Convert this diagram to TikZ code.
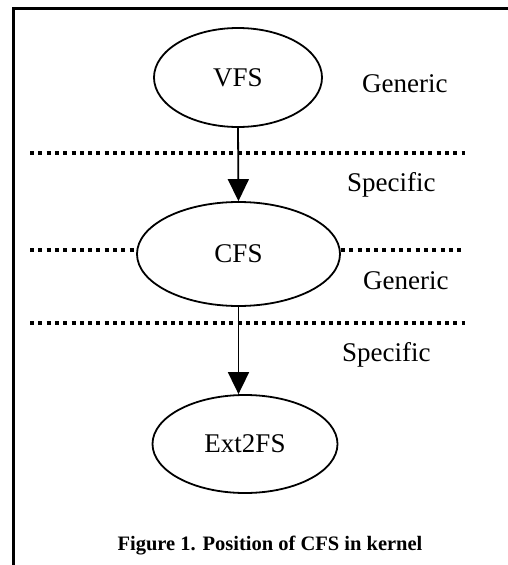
\documentclass[tikz,border=0pt]{standalone}
\usepackage{fontspec}
\setmainfont{Liberation Serif}
\usetikzlibrary{shapes.geometric,arrows.meta}
\begin{document}
\begin{tikzpicture}[x=1pt,y=-1pt,
  fsnode/.style={draw,ellipse,line width=1.8pt,inner sep=0pt,
    font=\fontsize{27}{29}\selectfont},
  layer/.style={font=\fontsize{27}{29}\selectfont,anchor=base west,inner sep=0pt},
  boundary/.style={line width=4pt,dash pattern=on 4pt off 4.3pt},
  flow/.style={line width=1.8pt,-{Triangle[width=21pt,length=22pt]}},
  frame/.style={line width=3pt}]
  \useasboundingbox (0,0) rectangle (508,565);

  % open frame: top and left edges
  \coordinate (ftl) at (13,8);
  \coordinate (ftr) at (508,8);
  \coordinate (fbl) at (13,565);
  \draw[frame] (ftr) -- (ftl) -- (fbl);

  % file system layers
  \node[fsnode,minimum width=168pt,minimum height=99pt] (VFS) at (238,77.5) {VFS};
  \node[fsnode,minimum width=203pt,minimum height=104pt] (CFS) at (238.5,254) {CFS};
  \node[fsnode,minimum width=185pt,minimum height=98pt] (Ext) at (245,444) {Ext2FS};

  % boundaries between generic and specific parts
  \coordinate (b1l) at (30,153);
  \coordinate (b1r) at (465,153);
  \coordinate (b2l) at (30,250);
  \coordinate (b2r) at (465,250);
  \coordinate (b3l) at (30,323);
  \coordinate (b3r) at (465,323);
  \draw[boundary] (b1l) -- (b1r);
  \draw[boundary] (b2l) -- (b2l -| CFS.west);
  \draw[boundary] (b2r -| CFS.east) -- (b2r);
  \draw[boundary] (b3l) -- (b3r);

  % calls down the stack
  \draw[flow] (VFS.south) -- (CFS.north);
  \draw[flow] (CFS.south) -- (CFS.south |- Ext.north);

  % layer labels
  \node[layer] (g1) at (362,92) {Generic};
  \node[layer] (s1) at (347,191) {Specific};
  \node[layer] (g2) at (363,289) {Generic};
  \node[layer] (s2) at (342,361) {Specific};

  % caption
  \node[anchor=base,inner sep=0pt,font=\fontsize{20.5}{22}\selectfont\bfseries] (cap) at (270,550)
    {Figure 1. Position of CFS in kernel};
\end{tikzpicture}
\end{document}
